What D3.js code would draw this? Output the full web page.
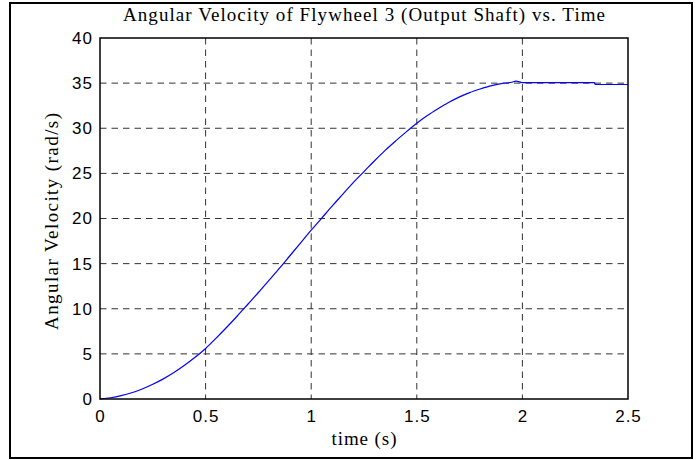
<!DOCTYPE html>
<html>
<head>
<meta charset="utf-8">
<script src="https://cdn.jsdelivr.net/npm/d3@7"></script>
<style>
  body { margin: 0; background: #fff; }
  svg { display: block; }
</style>
</head>
<body>
<div id="chart"></div>
<script>
// data
var timeS = [0, 0.05, 0.1, 0.15, 0.2, 0.25, 0.3, 0.35, 0.4, 0.45, 0.5, 0.55, 0.6, 0.65, 0.7,
             0.75, 0.8, 0.85, 0.9, 0.95, 1.0, 1.05, 1.1, 1.15, 1.2, 1.25, 1.3, 1.35, 1.4, 1.45,
             1.5, 1.55, 1.6, 1.65, 1.7, 1.75, 1.8, 1.85, 1.9, 1.95, 1.97, 2.0, 2.1, 2.2, 2.3,
             2.34, 2.345, 2.4, 2.5];
var angVel = [0, 0.14, 0.37, 0.69, 1.11, 1.63, 2.23, 2.93, 3.73, 4.62, 5.6, 6.75, 7.95, 9.2, 10.5,
              11.8, 13.15, 14.5, 15.9, 17.3, 18.7, 20.05, 21.4, 22.7, 24.0, 25.2, 26.4, 27.55, 28.6, 29.6,
              30.55, 31.4, 32.15, 32.85, 33.45, 33.95, 34.35, 34.7, 34.95, 35.1, 35.22, 35.05, 35.05, 35.05, 35.05,
              35.05, 34.85, 34.85, 34.85];
var xTicks = [0, 0.5, 1, 1.5, 2, 2.5];
var xTickLabels = ["0", "0.5", "1", "1.5", "2", "2.5"];
var yTicks = [0, 5, 10, 15, 20, 25, 30, 35, 40];
var yTickLabels = ["0", "5", "10", "15", "20", "25", "30", "35", "40"];

var titleText = "Angular Velocity of Flywheel 3 (Output Shaft) vs. Time";
var xLabelText = "time (s)";
var yLabelText = "Angular Velocity (rad/s)";

var w = 699, h = 460;
// plot box edges (note: "top" is taken by window.top)
var pLeft = 100, pRight = 628, pTop = 38, pBottom = 399;

var svg = d3.select('#chart')
  .append('svg')
  .attr('width', w)
  .attr('height', h);

// outer frame
svg.append("rect")
  .attr("x", 10).attr("y", 3)
  .attr("width", 682).attr("height", 455)
  .attr("fill", "#fff")
  .attr("stroke", "#000")
  .attr("stroke-width", 2);

var x = d3.scaleLinear().domain([0, 2.5]).range([pLeft, pRight]);
var y = d3.scaleLinear().domain([0, 40]).range([pBottom, pTop]);

// grid lines (dashed)
svg.append("g").selectAll("line")
  .data(xTicks.filter(function (d) { return d > 0 && d < 2.5; }))
  .enter().append("line")
  .attr("x1", function (d) { return x(d); })
  .attr("x2", function (d) { return x(d); })
  .attr("y1", pTop).attr("y2", pBottom)
  .attr("stroke", "#333")
  .attr("stroke-width", 1)
  .attr("stroke-dasharray", "6.5,5");

svg.append("g").selectAll("line")
  .data(yTicks.filter(function (d) { return d > 0 && d < 40; }))
  .enter().append("line")
  .attr("y1", function (d) { return y(d); })
  .attr("y2", function (d) { return y(d); })
  .attr("x1", pLeft).attr("x2", pRight)
  .attr("stroke", "#333")
  .attr("stroke-width", 1)
  .attr("stroke-dasharray", "6.5,5");

// the curve
var pts = timeS.map(function (t, i) { return [t, angVel[i]]; });
svg.append("path")
  .datum(pts)
  .attr("fill", "none")
  .attr("stroke", "#0000ff")
  .attr("stroke-width", 1.2)
  .attr("d", d3.line()
    .x(function (d) { return x(d[0]); })
    .y(function (d) { return y(d[1]); })
    .curve(d3.curveMonotoneX));

// axes box
svg.append("rect")
  .attr("x", pLeft).attr("y", pTop)
  .attr("width", pRight - pLeft).attr("height", pBottom - pTop)
  .attr("fill", "none")
  .attr("stroke", "#000")
  .attr("stroke-width", 1.5);

// tick labels
var tickFont = "17px 'Liberation Sans', Arial, sans-serif";

var xAxis = d3.axisBottom(x).tickValues(xTicks)
  .tickFormat(function (d, i) { return xTickLabels[i]; })
  .tickSize(0).tickPadding(11);
var gx = svg.append("g").attr("transform", "translate(0," + pBottom + ")").call(xAxis);
gx.select(".domain").remove();
gx.selectAll("text").style("font", tickFont).attr("fill", "#000").style("letter-spacing", "1px");

var yAxis = d3.axisLeft(y).tickValues(yTicks)
  .tickFormat(function (d, i) { return yTickLabels[i]; })
  .tickSize(0).tickPadding(7);
var gy = svg.append("g").attr("transform", "translate(" + pLeft + ",0)").call(yAxis);
gy.select(".domain").remove();
gy.selectAll("text").style("font", tickFont).attr("fill", "#000").style("letter-spacing", "1px");

// title and labels
var serif = "'Liberation Serif', 'Times New Roman', serif";
svg.append("text")
  .attr("x", (pLeft + pRight) / 2).attr("y", 21)
  .attr("text-anchor", "middle")
  .attr("textLength", 482).attr("lengthAdjust", "spacing")
  .style("font-family", serif).style("font-size", "19px")
  .text(titleText);

svg.append("text")
  .attr("x", (pLeft + pRight) / 2).attr("y", 445)
  .attr("text-anchor", "middle")
  .attr("textLength", 65).attr("lengthAdjust", "spacing")
  .style("font-family", serif).style("font-size", "19px")
  .text(xLabelText);

svg.append("text")
  .attr("transform", "translate(58," + ((pTop + pBottom) / 2 + 3) + ") rotate(-90)")
  .attr("text-anchor", "middle")
  .attr("textLength", 217).attr("lengthAdjust", "spacing")
  .style("font-family", serif).style("font-size", "19px")
  .text(yLabelText);
</script>
</body>
</html>
